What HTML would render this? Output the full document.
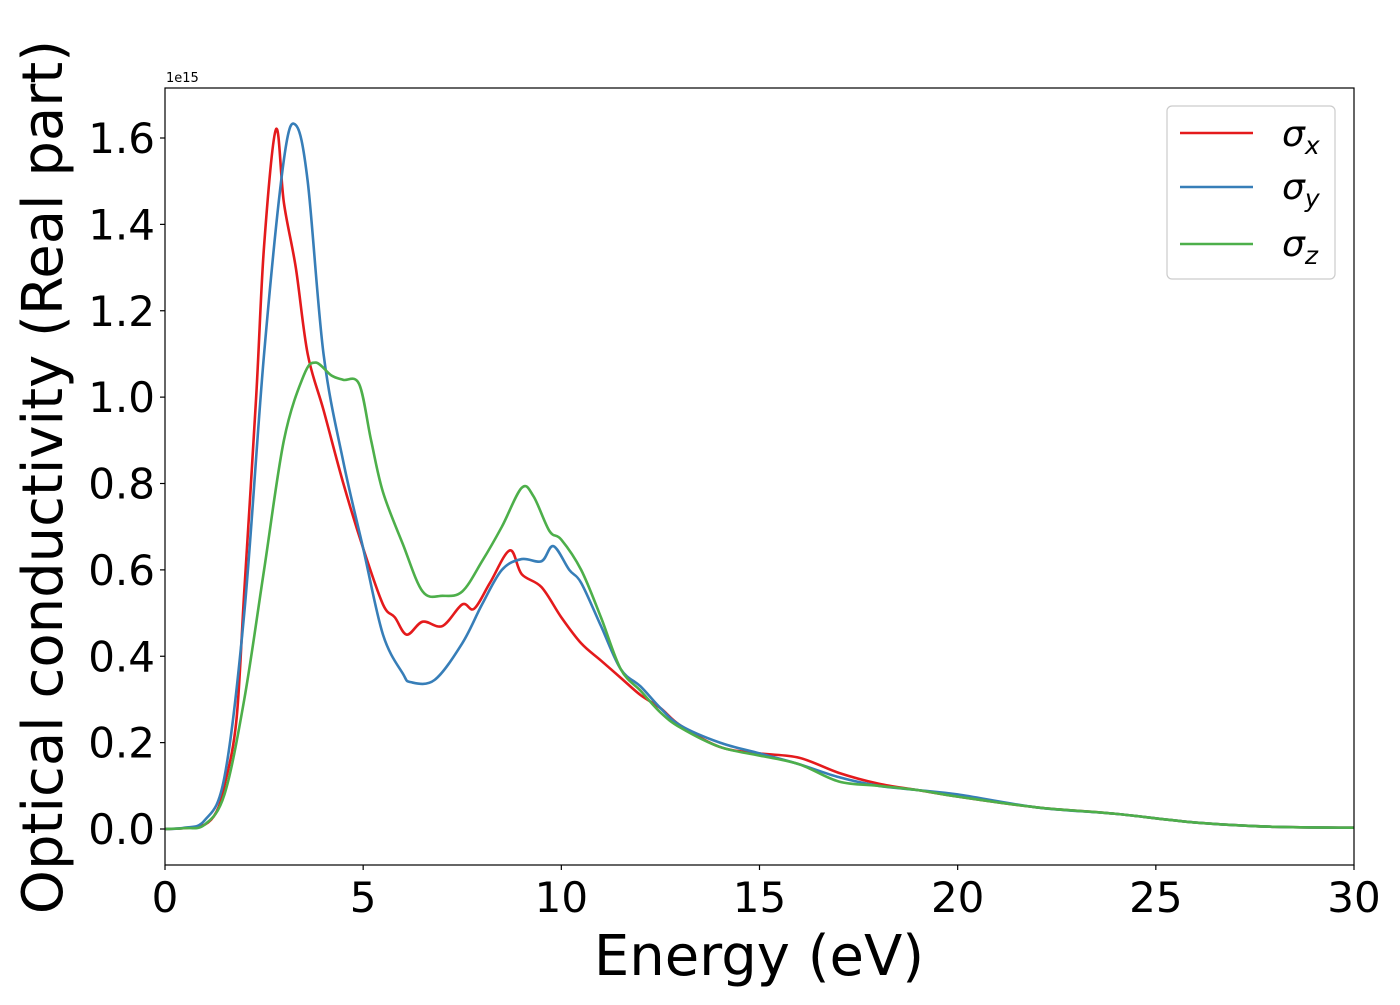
<!DOCTYPE html>
<html><head><meta charset="utf-8">
<style>
body{margin:0;background:#fff;}
svg text{font-family:"DejaVu Sans","Liberation Sans",sans-serif;fill:#000;}
</style></head>
<body>
<svg id="chart" width="1400" height="1000" xmlns="http://www.w3.org/2000/svg"></svg>
<script>
const xTicks=[0,5,10,15,20,25,30];
const yTicks=[0,0.2,0.4,0.6,0.8,1.0,1.2,1.4,1.6];
const ex=[0,0.5,1,1.3,1.5,1.8,2,2.3,2.5,2.8,3,3.3,3.6,4,4.5,5,5.5,5.8,6.1,6.5,7,7.5,7.8,8.2,8.7,9,9.5,10,10.5,11,11.5,12,12.5,13,14,15,16,17,18,19,20,22,24,26,28,30];
const sx=[0,0.002,0.01,0.04,0.1,0.25,0.55,1.0,1.35,1.62,1.45,1.3,1.1,0.97,0.8,0.65,0.52,0.49,0.45,0.48,0.47,0.52,0.51,0.57,0.645,0.59,0.56,0.49,0.43,0.39,0.35,0.31,0.28,0.24,0.19,0.175,0.165,0.13,0.105,0.09,0.075,0.05,0.035,0.015,0.005,0.003];
const ey=[0,0.5,1,1.5,2,2.5,3,3.3,3.6,4,4.5,5,5.5,6,6.2,6.8,7.5,8,8.5,9,9.5,9.8,10.2,10.5,11,11.5,12,12.5,13,14,15,16,17,18,19,20,22,24,26,28,30];
const sy=[0,0.003,0.02,0.12,0.5,1.1,1.55,1.63,1.5,1.1,0.85,0.65,0.45,0.36,0.34,0.345,0.43,0.52,0.6,0.625,0.62,0.655,0.6,0.57,0.47,0.37,0.33,0.28,0.24,0.2,0.175,0.15,0.12,0.1,0.09,0.08,0.05,0.035,0.015,0.005,0.003];
const ez=[0,0.5,1,1.5,2,2.5,3,3.5,3.8,4.2,4.5,4.9,5.2,5.5,6,6.5,7,7.5,8,8.5,9,9.3,9.7,10,10.5,11,11.5,12,12.5,13,14,15,16,17,18,19,20,22,24,26,28,30];
const sz=[0,0.002,0.01,0.08,0.3,0.6,0.9,1.05,1.08,1.05,1.04,1.03,0.9,0.78,0.66,0.55,0.54,0.55,0.62,0.7,0.79,0.77,0.69,0.67,0.6,0.49,0.37,0.32,0.27,0.235,0.19,0.17,0.15,0.11,0.1,0.09,0.075,0.05,0.035,0.015,0.005,0.003];

const L=165,R=1354,T=88,B=865;
const X=v=>L+(v-0)/30*(R-L);
const Y=v=>829-v/1.6*(829-138);
const svg=document.getElementById('chart');
const NS='http://www.w3.org/2000/svg';
function mk(t,a){const e=document.createElementNS(NS,t);for(const k in a)e.setAttribute(k,a[k]);svg.appendChild(e);return e;}
function path(xs,ys){
  const p=xs.map((x,i)=>[X(x),Y(ys[i])]);
  let d='M'+p[0][0]+','+p[0][1];
  for(let i=0;i<p.length-1;i++){
    const p0=p[Math.max(i-1,0)],p1=p[i],p2=p[i+1],p3=p[Math.min(i+2,p.length-1)];
    const c1=[p1[0]+(p2[0]-p0[0])/6,p1[1]+(p2[1]-p0[1])/6];
    const c2=[p2[0]-(p3[0]-p1[0])/6,p2[1]-(p3[1]-p1[1])/6];
    d+=` C${c1[0]},${c1[1]} ${c2[0]},${c2[1]} ${p2[0]},${p2[1]}`;
  }
  return d;
}
const series=[[ex,sx,'#e41a1c','series-sigma-x'],[ey,sy,'#377eb8','series-sigma-y'],[ez,sz,'#4daf4a','series-sigma-z']];
series.forEach(s=>{
  const e=mk('path',{d:path(s[0],s[1]),fill:'none',stroke:s[2],'stroke-width':2.6});
  
  
});
const frame=mk('rect',{x:L,y:T,width:R-L,height:B-T,fill:'none',stroke:'#000','stroke-width':1.2});


xTicks.forEach(v=>{
  const l=mk('line',{x1:X(v),x2:X(v),y1:B,y2:B+5,stroke:'#000','stroke-width':1.2});
  
  
  const t=mk('text',{x:X(v),y:912,'font-size':42,'text-anchor':'middle'});
  t.textContent=v;
  
  
});
yTicks.forEach(v=>{
  const l=mk('line',{x1:L-5,x2:L,y1:Y(v),y2:Y(v),stroke:'#000','stroke-width':1.2});
  
  
  const t=mk('text',{x:155,y:Y(v)+15,'font-size':42,'text-anchor':'end'});
  t.textContent=v.toFixed(1);
  
  
});
</script>
<svg style="position:absolute;left:0;top:0" width="1400" height="1000" xmlns="http://www.w3.org/2000/svg">
<text x="166" y="82" font-size="13" font-family="DejaVu Sans,sans-serif">1e15</text>
<text x="759" y="975" font-size="56" text-anchor="middle" font-family="DejaVu Sans,sans-serif">Energy (eV)</text>
<text transform="translate(62,477) rotate(-90)" font-size="56" text-anchor="middle" font-family="DejaVu Sans,sans-serif">Optical conductivity (Real part)</text>
<g>
<rect x="1167" y="106" width="168" height="173" rx="5" fill="#fff" stroke="#ccc" stroke-width="1.2"/>
<line x1="1180" x2="1253" y1="133" y2="133" stroke="#e41a1c" stroke-width="2.6"/>
<line x1="1180" x2="1253" y1="187" y2="187" stroke="#377eb8" stroke-width="2.6"/>
<line x1="1180" x2="1253" y1="244" y2="244" stroke="#4daf4a" stroke-width="2.6"/>
<text x="1282" y="146" font-size="36" font-style="italic" font-family="DejaVu Sans,sans-serif">σ<tspan font-size="25" dy="8">x</tspan></text>
<text x="1282" y="199" font-size="36" font-style="italic" font-family="DejaVu Sans,sans-serif">σ<tspan font-size="25" dy="8">y</tspan></text>
<text x="1282" y="256" font-size="36" font-style="italic" font-family="DejaVu Sans,sans-serif">σ<tspan font-size="25" dy="8">z</tspan></text>
</g>
</svg>
</body></html>
